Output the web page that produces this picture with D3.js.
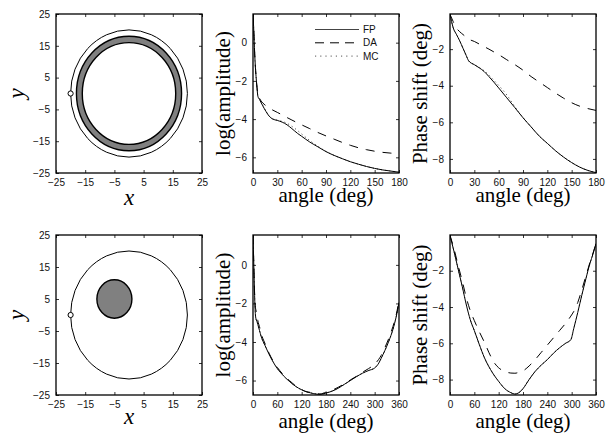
<!DOCTYPE html>
<html><head><meta charset="utf-8">
<script src="https://cdn.jsdelivr.net/npm/d3@7"></script>
<style>
html,body{margin:0;padding:0;background:#fff;}
svg{display:block;}
.tick text{font-family:"Liberation Sans",Arial,Helvetica,sans-serif;font-size:10px;fill:#111;}
.lab{font-family:"Liberation Serif","Times New Roman",serif;font-size:21px;fill:#000;}
.math{font-family:"Liberation Serif","Times New Roman",serif;font-style:italic;font-size:23px;fill:#000;}
.leg{font-family:"Liberation Sans",Arial,sans-serif;font-size:10px;fill:#111;}
</style></head><body>
<svg id="fig" width="607" height="434"></svg>
<script>
// ---- geometry of the two configurations (units: cm) ----
const geomTicks = [-25, -15, -5, 5, 15, 25];
const boundaryRadius = 20;
const ringRadii = [16, 18];          // inner / outer radius of the absorbing shell
const inclusionCenter = [-5, 5];
const inclusionRadius = 6;
const sourcePoint = [-20, 0];

// ---- row 1: concentric shell, 0..180 deg ----
const angleTicksHalf = [0, 30, 60, 90, 120, 150, 180];
const ampTopTicks = [0, -2, -4, -6];
const phaseTopTicks = [-2, -4, -6, -8];

const ampTopAngle = [0,1,2,3,4,5,6,8,12,16,20,24,30,36,42,48,55,60,70,80,90,100,110,120,130,140,150,160,170,180];
const ampTopFP = [1.5,0.6,-0.5,-1.3,-1.9,-2.4,-2.8,-2.97,-3.3,-3.6,-3.85,-3.99,-4.07,-4.16,-4.3,-4.5,-4.75,-4.9,-5.2,-5.45,-5.7,-5.9,-6.07,-6.23,-6.36,-6.48,-6.58,-6.66,-6.72,-6.78];
const ampTopDA = [1.5,0.6,-0.5,-1.3,-1.9,-2.35,-2.65,-2.9,-3.15,-3.3,-3.42,-3.52,-3.65,-3.78,-3.92,-4.05,-4.2,-4.3,-4.5,-4.7,-4.88,-5.05,-5.22,-5.37,-5.5,-5.6,-5.68,-5.74,-5.78,-5.8];
const ampTopMC = [1.5,0.6,-0.5,-1.3,-1.9,-2.4,-2.8,-2.95,-3.28,-3.58,-3.84,-3.98,-4.05,-4.12,-4.22,-4.38,-4.6,-4.78,-5.12,-5.42,-5.69,-5.9,-6.07,-6.23,-6.36,-6.48,-6.58,-6.66,-6.72,-6.78];

const phaseTopAngle = [0,2,4,8,12,16,20,23,30,36,42,48,54,60,70,80,90,100,110,120,130,140,150,160,170,180];
const phaseTopFP = [-0.1,-0.5,-0.84,-1.2,-1.55,-1.95,-2.35,-2.64,-2.85,-3.02,-3.22,-3.5,-3.8,-4.12,-4.66,-5.2,-5.75,-6.25,-6.75,-7.15,-7.55,-7.9,-8.2,-8.45,-8.63,-8.75];
const phaseTopDA = [-0.1,-0.3,-0.5,-0.85,-1.05,-1.2,-1.35,-1.45,-1.58,-1.72,-1.86,-2.0,-2.15,-2.3,-2.58,-2.85,-3.15,-3.5,-3.8,-4.1,-4.4,-4.68,-4.93,-5.12,-5.25,-5.35];
const phaseTopMC = [-0.1,-0.5,-0.84,-1.2,-1.55,-1.95,-2.35,-2.64,-2.85,-3.0,-3.18,-3.42,-3.7,-3.98,-4.5,-5.15,-5.74,-6.25,-6.75,-7.15,-7.55,-7.9,-8.2,-8.45,-8.63,-8.75];

// ---- row 2: off-centre inclusion, 0..360 deg ----
const angleTicksFull = [0, 60, 120, 180, 240, 300, 360];
const ampBotTicks = [0, -2, -4, -6];
const phaseBotTicks = [-2, -4, -6, -8];

const ampBotAngle = [0,2,4,6,8,10,12,16,20,30,40,50,60,75,90,105,120,135,150,165,180,195,210,225,240,255,270,285,300,310,316,325,335,345,353,360];
const ampBotFP = [1.55,0.0,-1.6,-2.6,-2.85,-2.95,-3.1,-3.4,-3.7,-4.2,-4.65,-5.05,-5.38,-5.75,-6.05,-6.3,-6.48,-6.6,-6.68,-6.72,-6.65,-6.55,-6.4,-6.2,-6.0,-5.8,-5.62,-5.48,-5.35,-5.1,-4.85,-4.45,-3.95,-3.35,-2.7,-1.95];
const ampBotDA = [1.55,0.0,-1.5,-2.2,-2.4,-2.6,-2.9,-3.2,-3.55,-4.1,-4.6,-5.0,-5.32,-5.7,-6.0,-6.27,-6.47,-6.6,-6.62,-6.7,-6.6,-6.5,-6.35,-6.17,-5.97,-5.78,-5.57,-5.38,-5.15,-4.9,-4.7,-4.3,-3.8,-3.2,-2.6,-1.85];
const ampBotMC = [1.55,0.0,-1.6,-2.6,-2.85,-2.95,-3.1,-3.42,-3.72,-4.2,-4.63,-5.03,-5.37,-5.74,-6.05,-6.3,-6.48,-6.6,-6.67,-6.71,-6.64,-6.54,-6.4,-6.2,-6.0,-5.8,-5.62,-5.48,-5.34,-5.1,-4.85,-4.45,-3.95,-3.35,-2.7,-1.95];

const phaseBotAngle = [0,10,20,30,41,50,60,72,85,100,110,120,135,150,160,170,180,195,210,225,240,255,270,285,298,305,315,325,335,345,353,360];
const phaseBotFP = [-0.05,-0.95,-1.9,-2.85,-3.95,-4.7,-5.3,-6.05,-6.8,-7.45,-7.8,-8.1,-8.5,-8.72,-8.8,-8.72,-8.5,-8.0,-7.55,-7.2,-6.9,-6.55,-6.25,-6.0,-5.8,-5.2,-4.3,-3.35,-2.45,-1.6,-1.05,-0.5];
const phaseBotDA = [-0.05,-0.8,-1.7,-2.55,-3.55,-4.2,-4.75,-5.35,-5.95,-6.7,-7.1,-7.35,-7.55,-7.64,-7.65,-7.6,-7.52,-7.25,-6.9,-6.5,-6.1,-5.7,-5.3,-4.9,-4.5,-4.25,-3.75,-3.05,-2.3,-1.55,-1.0,-0.5];
const phaseBotMC = [-0.05,-0.95,-1.9,-2.85,-3.95,-4.7,-5.3,-6.05,-6.8,-7.45,-7.8,-8.1,-8.5,-8.72,-8.8,-8.72,-8.5,-8.0,-7.55,-7.2,-6.9,-6.55,-6.25,-6.0,-5.8,-5.2,-4.3,-3.35,-2.45,-1.6,-1.05,-0.5];

const seriesNames = ["FP", "DA", "MC"];
const seriesDash = {FP: null, DA: "9,8", MC: "1.2,3"};
const seriesColor = {FP: "#000", DA: "#000", MC: "#555"};

const svg = d3.select("#fig");
const fmt = d => d3.format("d")(d);

// column / row placement of the six axes
const colX = [56, 253, 450];
const rowY = [14, 235];
const W = 146;
const rowH = [159, 160];
const TL = 3;

function makeAxes(col, row, xDomain, yDomain, xTicks, yTicks) {
  const left = colX[col], top = rowY[row], h = rowH[row];
  const x = d3.scaleLinear().domain(xDomain).range([left, left + W]);
  const y = d3.scaleLinear().domain(yDomain).range([top + h, top]);
  const g = svg.append("g");
  const clipId = `clip${col}${row}`;
  svg.append("clipPath").attr("id", clipId)
    .append("rect").attr("x", left).attr("y", top).attr("width", W).attr("height", h);
  const plot = g.append("g").attr("clip-path", `url(#${clipId})`);

  const bottom = g.append("g").attr("transform", `translate(0,${top + h})`)
    .call(d3.axisBottom(x).tickValues(xTicks).tickSize(-TL).tickPadding(5.5).tickFormat(fmt));
  const leftAx = g.append("g").attr("transform", `translate(${left},0)`)
    .call(d3.axisLeft(y).tickValues(yTicks).tickSize(-TL).tickPadding(6).tickFormat(fmt));
  const topAx = g.append("g").attr("transform", `translate(0,${top})`)
    .call(d3.axisTop(x).tickValues(xTicks).tickSize(-TL).tickFormat(""));
  const rightAx = g.append("g").attr("transform", `translate(${left + W},0)`)
    .call(d3.axisRight(y).tickValues(yTicks).tickSize(-TL).tickFormat(""));
  [bottom, leftAx, topAx, rightAx].forEach(a => {
    a.select(".domain").remove();
    a.selectAll("line").attr("stroke", "#000").attr("stroke-width", 0.8);
  });
  const frame = g.append("rect").attr("x", left).attr("y", top).attr("width", W).attr("height", h)
    .attr("fill", "none").attr("stroke", "#000").attr("stroke-width", 1.3);
  return {x, y, plot, left, top, h, frame};
}

function drawCurves(ax, angles, series) {
  const line = d3.line().x((d, i) => ax.x(angles[i])).y(d => ax.y(d)).curve(d3.curveMonotoneX);
  ["MC", "DA", "FP"].forEach(name => {
    const p = ax.plot.append("path").datum(series[name]).attr("d", line)
      .attr("fill", "none").attr("stroke", seriesColor[name]).attr("stroke-width", 1);
    if (seriesDash[name]) p.attr("stroke-dasharray", seriesDash[name]);
  });
}

function ellipse(ax, cx, cy, r) {
  return ax.plot.append("ellipse")
    .attr("cx", ax.x(cx)).attr("cy", ax.y(cy))
    .attr("rx", ax.x(cx + r) - ax.x(cx)).attr("ry", ax.y(cy) - ax.y(cy + r));
}

function geometryPanel(row, drawBody) {
  const ax = makeAxes(0, row, [-25, 25], [-25, 25], geomTicks, geomTicks);
  ellipse(ax, 0, 0, boundaryRadius).attr("fill", "none").attr("stroke", "#000").attr("stroke-width", 1);
  drawBody(ax);
  ax.plot.append("circle").attr("cx", ax.x(sourcePoint[0])).attr("cy", ax.y(sourcePoint[1]))
    .attr("r", 2.6).attr("fill", "#fff").attr("stroke", "#000").attr("stroke-width", 1);
  svg.append("text").attr("class", "math").attr("text-anchor", "middle")
    .attr("x", ax.left + W / 2).attr("y", row === 0 ? 205 : 424).text("x");
  svg.append("text").attr("class", "math").attr("text-anchor", "middle")
    .attr("transform", `translate(24,${ax.top + ax.h / 2}) rotate(-90)`).text("y");
  ax.frame.raise();
}

// geometry, row 1: shell
geometryPanel(0, ax => {
  ellipse(ax, 0, 0, ringRadii[1]).attr("fill", "#808080").attr("stroke", "#000").attr("stroke-width", 1.4);
  ellipse(ax, 0, 0, ringRadii[0]).attr("fill", "#fff").attr("stroke", "#000").attr("stroke-width", 1.4);
});
// geometry, row 2: inclusion
geometryPanel(1, ax => {
  ellipse(ax, inclusionCenter[0], inclusionCenter[1], inclusionRadius)
    .attr("fill", "#808080").attr("stroke", "#000").attr("stroke-width", 1.4);
});

function dataPanel(col, row, xDomain, yDomain, xTicks, yTicks, angles, series, ylabel) {
  const ax = makeAxes(col, row, xDomain, yDomain, xTicks, yTicks);
  drawCurves(ax, angles, series);
  ax.frame.raise();
  svg.append("text").attr("class", "lab").attr("text-anchor", "middle")
    .attr("x", ax.left + W / 2).attr("y", row === 0 ? 202 : 428).text("angle (deg)");
  svg.append("text").attr("class", "lab").attr("text-anchor", "middle")
    .attr("transform", `translate(${ax.left - 23},${ax.top + ax.h / 2}) rotate(-90)`).text(ylabel);
  return ax;
}

dataPanel(1, 0, [0, 180], [-6.82, 1.5], angleTicksHalf, ampTopTicks, ampTopAngle,
  {FP: ampTopFP, DA: ampTopDA, MC: ampTopMC}, "log(amplitude)");
dataPanel(2, 0, [0, 180], [-8.77, -0.08], angleTicksHalf, phaseTopTicks, phaseTopAngle,
  {FP: phaseTopFP, DA: phaseTopDA, MC: phaseTopMC}, "Phase shift (deg)");
dataPanel(1, 1, [0, 360], [-6.75, 1.55], angleTicksFull, ampBotTicks, ampBotAngle,
  {FP: ampBotFP, DA: ampBotDA, MC: ampBotMC}, "log(amplitude)");
dataPanel(2, 1, [0, 360], [-8.85, -0.03], angleTicksFull, phaseBotTicks, phaseBotAngle,
  {FP: phaseBotFP, DA: phaseBotDA, MC: phaseBotMC}, "Phase shift (deg)");

// legend inside the first amplitude axes
const leg = svg.append("g");
seriesNames.forEach((name, i) => {
  const yy = 29.5 + i * 13.3;
  const l = leg.append("line").attr("x1", 315).attr("x2", 359).attr("y1", yy).attr("y2", yy)
    .attr("stroke", name === "FP" ? "#444" : seriesColor[name]).attr("stroke-width", 1);
  if (seriesDash[name]) l.attr("stroke-dasharray", name === "DA" ? "9,6" : "1.2,4");
  leg.append("text").attr("class", "leg").attr("x", 363).attr("y", yy).attr("dy", "0.35em").text(name);
});
</script></body></html>
